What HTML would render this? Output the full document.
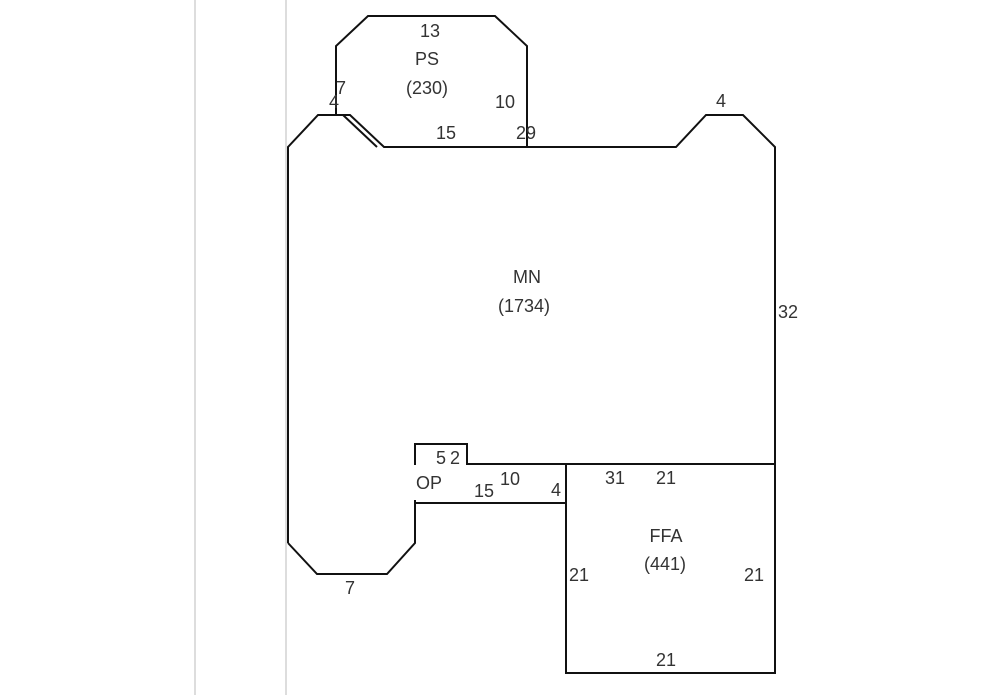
<!DOCTYPE html>
<html><head><meta charset="utf-8"><style>
html,body{margin:0;padding:0;background:#fff;width:1000px;height:695px;overflow:hidden}
text{font-family:"Liberation Sans",sans-serif;font-size:18px;fill:#333}
</style></head><body>
<svg width="1000" height="695" xmlns="http://www.w3.org/2000/svg">
<line x1="195" y1="0" x2="195" y2="695" stroke="#ddd" stroke-width="2"/>
<line x1="286" y1="0" x2="286" y2="695" stroke="#ddd" stroke-width="2"/>
<g fill="none" stroke="#111" stroke-width="2">
<polyline points="336,115 336,46 368,16 495,16 527,46 527,147"/>
<polyline points="288,543 288,147 318,115 350,115 384,147 676,147 706,115 743,115 775,147 775,464"/>
<line x1="343" y1="115" x2="377" y2="147"/>
<polyline points="415,465 415,444 467,444 467,464 775,464"/>
<polyline points="415,500 415,543 387,574 317,574 288,543"/>
<line x1="415" y1="503" x2="566" y2="503"/>
<polyline points="566,464 566,673 775,673 775,464"/>
</g>
<text x="430" y="37" text-anchor="middle">13</text>
<text x="427" y="65" text-anchor="middle">PS</text>
<text x="427" y="94" text-anchor="middle">(230)</text>
<text x="336" y="94">7</text>
<text x="329" y="108">4</text>
<text x="495" y="108">10</text>
<text x="436" y="139">15</text>
<text x="516" y="139">29</text>
<text x="716" y="107">4</text>
<text x="527" y="283" text-anchor="middle">MN</text>
<text x="524" y="312" text-anchor="middle">(1734)</text>
<text x="778" y="318">32</text>
<text x="436" y="464">5</text>
<text x="450" y="464">2</text>
<text x="416" y="489">OP</text>
<text x="474" y="497">15</text>
<text x="500" y="485">10</text>
<text x="551" y="496">4</text>
<text x="605" y="484">31</text>
<text x="656" y="484">21</text>
<text x="666" y="542" text-anchor="middle">FFA</text>
<text x="665" y="570" text-anchor="middle">(441)</text>
<text x="569" y="581">21</text>
<text x="744" y="581">21</text>
<text x="656" y="666">21</text>
<text x="345" y="594">7</text>
</svg>
</body></html>
